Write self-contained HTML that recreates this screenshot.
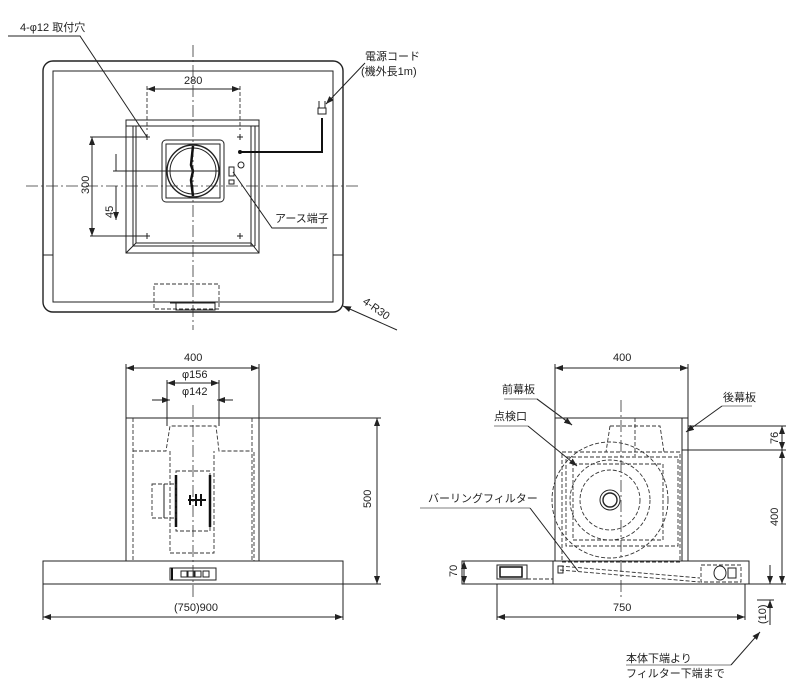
<!DOCTYPE html>
<html><head><meta charset="utf-8"><style>
html,body{margin:0;padding:0;background:#fff;width:798px;height:688px;overflow:hidden}
svg{display:block}
text{font-family:"Liberation Sans","Noto Sans CJK JP",sans-serif;fill:#222;font-size:11px}
.l{stroke:#222;fill:none;stroke-width:1}
.t{stroke:#222;fill:none;stroke-width:1.4}
.d{stroke:#333;fill:none;stroke-width:0.9;stroke-dasharray:4 2}
.c{stroke:#333;fill:none;stroke-width:0.8;stroke-dasharray:12 3 2 3}
.g{stroke:#999;stroke-width:1.2;fill:none}
</style></head><body>
<svg width="798" height="688" viewBox="0 0 798 688">
<defs>
<marker id="a" markerWidth="8" markerHeight="6" refX="8" refY="3" orient="auto-start-reverse" markerUnits="userSpaceOnUse"><path d="M0,0 L8,3 L0,6z" fill="#222"/></marker>
</defs>

<!-- ===== TOP VIEW ===== -->
<rect x="43" y="61" width="300" height="251" rx="10" class="t"/>
<rect x="53" y="71" width="280" height="231" class="l"/>
<path d="M43,255 H53 M333,255 H343" class="l"/>
<line x1="193" y1="45" x2="193" y2="330" class="c"/>
<line x1="26" y1="186" x2="360" y2="186" class="c"/>
<rect x="126" y="120" width="133" height="133" class="l"/>
<path d="M126,126 H259 M133,126 V246 M136,126 V243 M251,126 V246 M255,126 V246 M126,253 L136,243 H251 L259,253 M133,246 H255" class="l"/>
<rect x="162" y="140" width="62" height="62" rx="4" class="l"/>
<rect x="166" y="144" width="54" height="54" class="l"/>
<circle cx="193" cy="171" r="26" class="t"/>
<circle cx="193" cy="171" r="23" class="l"/>
<path d="M193,146 L191,165 L193,171 L191,180 L193,196" stroke="#111" stroke-width="2.5" fill="none"/>
<g stroke="#222" stroke-width="1">
<path d="M144,137h6M147,134v6M237,137h6M240,134v6M144,236h6M147,233v6M237,236h6M240,233v6"/>
</g>
<circle cx="240" cy="152" r="2" fill="#111"/>
<circle cx="241" cy="165" r="3" class="l"/>
<rect x="229" y="167" width="5" height="9" class="l"/>
<rect x="229" y="180" width="5" height="4" class="l"/>
<path d="M240,152 H322 V118" stroke="#111" stroke-width="2" fill="none"/>
<path d="M318,108 h8 v6 h-8z M319,101 v7 M325,101 v7" class="l"/>
<rect x="154" y="284" width="65" height="25" class="d"/>
<path d="M170,303 H215 V310 H176 V303" class="l"/>
<!-- dims -->
<line x1="147" y1="89" x2="240" y2="89" class="l" marker-start="url(#a)" marker-end="url(#a)"/>
<path d="M147,86 V130 M240,86 V130" class="d"/>
<text x="184" y="84">280</text>
<line x1="92" y1="137" x2="92" y2="236" class="l" marker-start="url(#a)" marker-end="url(#a)"/>
<path d="M90,137 H147 M90,236 H147" class="l"/>
<text x="0" y="0" transform="translate(89,194) rotate(-90)" font-size="10">300</text>
<path d="M116,154 V171 M116,186 V220" class="l" marker-end="url(#a)"/>
<line x1="113" y1="171" x2="220" y2="171" class="l"/>
<text x="0" y="0" transform="translate(113,218) rotate(-90)" font-size="10">45</text>
<!-- labels -->
<text x="20" y="31">4-φ12 取付穴</text>
<path d="M8,36 H80 L147,137" class="l"/>
<text x="365" y="60">電源コード</text>
<text x="361" y="75">(機外長1m)</text>
<path d="M365,63 L326,104" class="l" marker-end="url(#a)"/>
<text x="275" y="222">アース端子</text>
<path d="M327,228 H272 L233,172" class="l"/>
<text x="0" y="0" transform="translate(362,303) rotate(35)">4-R30</text>
<path d="M397,330 L343,306" class="l" marker-end="url(#a)"/>

<!-- ===== FRONT VIEW ===== -->
<rect x="126" y="418" width="133" height="143" class="l"/>
<path d="M133,418 V561 M252,418 V561 M254,452 V561" class="d"/>
<path d="M133,451 H166 L170,426 H216 L219,451 H252" class="d"/>
<path d="M170,451 V553 H214 V451" class="d"/>
<rect x="176" y="471" width="34" height="60" class="d"/>
<path d="M176,475 V527 M210,475 V527" stroke="#111" stroke-width="2.5"/>
<rect x="152" y="484" width="24" height="34" class="d"/>
<path d="M164,484 V518" class="l"/>
<path d="M188,500 H206 M190,495 v10 M196,494 v12 M201,494 v12" stroke="#111" stroke-width="2"/>
<rect x="43" y="561" width="300" height="23" class="l"/>
<rect x="170" y="568" width="46" height="12" class="l"/>
<path d="M172,568 v12" stroke="#111" stroke-width="2"/>
<g class="l"><rect x="181" y="571" width="6" height="6"/><rect x="188" y="571" width="6" height="6"/><rect x="195" y="571" width="6" height="6"/><rect x="203" y="571" width="6" height="6"/></g>
<line x1="193" y1="405" x2="193" y2="600" class="c"/>
<line x1="126" y1="368" x2="259" y2="368" class="l" marker-start="url(#a)" marker-end="url(#a)"/>
<path d="M126,364 V418 M259,364 V418" class="l"/>
<text x="184" y="361">400</text>
<line x1="167" y1="383" x2="219" y2="383" class="l" marker-start="url(#a)" marker-end="url(#a)"/>
<path d="M167,380 V426 M219,380 V426" class="l"/>
<text x="182" y="378" font-size="10">φ156</text>
<path d="M152,400 H170 M217,400 H233" class="l"/>
<path d="M152,400 H170" class="l" marker-end="url(#a)"/>
<path d="M233,400 H217" class="l" marker-end="url(#a)"/>
<text x="182" y="395" font-size="10">φ142</text>
<line x1="377" y1="418" x2="377" y2="584" class="l" marker-start="url(#a)" marker-end="url(#a)"/>
<path d="M259,418 H381 M343,584 H381" class="l"/>
<text x="0" y="0" transform="translate(371,508) rotate(-90)" font-size="10">500</text>
<line x1="43" y1="617" x2="343" y2="617" class="l" marker-start="url(#a)" marker-end="url(#a)"/>
<path d="M43,584 V620 M343,584 V620" class="l"/>
<text x="174" y="611" font-size="10">(750)900</text>

<!-- ===== SIDE VIEW ===== -->
<rect x="555" y="418" width="133" height="143" class="l"/>
<path d="M682,418 V561" class="l"/>
<path d="M610,426 H660 L664,452 M610,426 L606,452 M635,418 V456" class="d"/>
<rect x="562" y="452" width="118" height="110" class="d"/>
<rect x="566" y="457" width="112" height="89" class="d"/>
<rect x="573" y="464" width="90" height="76" class="d"/>
<circle cx="610" cy="500" r="58" class="d"/>
<circle cx="610" cy="500" r="40" class="d"/>
<circle cx="610" cy="500" r="30" class="d"/>
<circle cx="610" cy="500" r="10" class="l"/>
<circle cx="610" cy="500" r="7" class="t"/>
<line x1="621" y1="400" x2="621" y2="600" class="c"/>
<path d="M688,426 H786 M682,450 H786" class="l"/>
<rect x="462" y="561" width="287" height="23" class="l"/>
<path d="M553,561 V584" class="l"/>
<rect x="497" y="565" width="30" height="14" class="l"/>
<path d="M500,567 h22 v10 h-22z" stroke="#111" stroke-width="1.5" fill="none"/>
<path d="M527,579 H553" class="d"/>
<path d="M560,566 L700,578 M560,570 L700,582" class="d"/>
<rect x="701" y="565" width="40" height="17" class="d"/>
<ellipse cx="720" cy="573" rx="6" ry="7" class="l"/>
<rect x="728" y="568" width="8" height="10" class="l"/>
<rect x="558" y="566" width="5" height="7" class="l"/>
<line x1="555" y1="368" x2="688" y2="368" class="l" marker-start="url(#a)" marker-end="url(#a)"/>
<path d="M555,364 V418 M688,364 V418" class="l"/>
<text x="613" y="361">400</text>
<line x1="782" y1="426" x2="782" y2="450" class="l" marker-start="url(#a)" marker-end="url(#a)"/>
<line x1="782" y1="450" x2="782" y2="584" class="l" marker-start="url(#a)" marker-end="url(#a)"/>
<path d="M749,584 H786" class="l"/>
<text x="0" y="0" transform="translate(778,444) rotate(-90)" font-size="10">76</text>
<text x="0" y="0" transform="translate(778,526) rotate(-90)" font-size="10">400</text>
<line x1="464" y1="561" x2="464" y2="584" class="l" marker-start="url(#a)" marker-end="url(#a)"/>
<text x="0" y="0" transform="translate(457,577) rotate(-90)" font-size="10">70</text>
<path d="M770,565 V584" class="l" marker-end="url(#a)"/>
<path d="M770,625 V600" class="l" marker-end="url(#a)"/>
<text x="0" y="0" transform="translate(766,624) rotate(-90)" font-size="10">(10)</text>
<path d="M757,600 H774" class="l"/>
<line x1="497" y1="617" x2="745" y2="617" class="l" marker-start="url(#a)" marker-end="url(#a)"/>
<path d="M497,584 V620 M745,584 V620" class="l"/>
<text x="613" y="611" font-size="10">750</text>
<!-- side labels -->
<text x="502" y="393">前幕板</text>
<path d="M504,399 H537 L572,425" class="g"/><path d="M537,399 L572,425" class="l" marker-end="url(#a)"/>
<text x="723" y="401">後幕板</text>
<path d="M722,406 H752" class="g"/><path d="M722,406 L686,432" class="l" marker-end="url(#a)"/>
<text x="494" y="420">点検口</text>
<path d="M494,426 H528" class="g"/><path d="M528,426 L577,466" class="l" marker-end="url(#a)"/>
<text x="428" y="502">バーリングフィルター</text>
<path d="M420,508 H530" class="g"/><path d="M530,508 L578,571" class="l"/>
<text x="626" y="662">本体下端より</text>
<text x="626" y="677">フィルター下端まで</text>
<path d="M626,665 H731" class="g"/><path d="M731,665 L760,632" class="l" marker-end="url(#a)"/>
</svg>
</body></html>
